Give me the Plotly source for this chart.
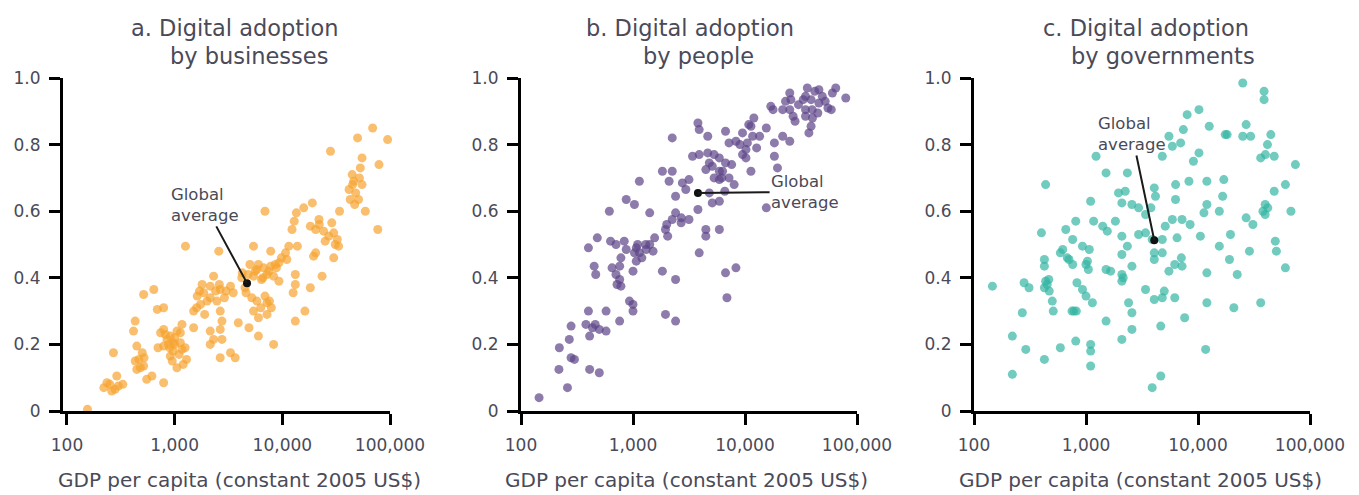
import math
import plotly.graph_objects as go

# ---------------- data ----------------
gdp_a = [69000, 50000, 95000, 28000, 55000, 79000, 53000, 44600, 46000, 55000, 41700, 48000, 42700, 51000,
         59000, 34000, 19000, 15800, 13500, 6900, 12900, 12300, 21900, 18200, 20400, 24200, 28800, 30000,
         27000, 32400, 33300, 77000, 30000, 20400, 19500, 13800, 11500, 10700, 11000, 9300, 7800, 7800,
         5400, 6700, 5800, 7200, 8300, 6400, 5400, 4250, 2570, 1260, 23400, 13200, 13200, 18200, 12600,
         9300, 16200, 13200, 8300, 6000, 4900, 3900, 2750, 3300, 3650, 2650, 6900, 7200, 7900, 5800, 5400,
         7200, 4600, 3500, 3300, 2650, 2300, 2140, 1860, 1620, 2140, 2470, 1740, 1500, 2650, 1500, 1170,
         1130, 2140, 2300, 2750, 2140, 2650, 790, 740, 850, 970, 790, 970, 1170, 1130, 910, 1290, 1050,
         640, 515, 690, 790, 430, 415, 445, 500, 465, 445, 515, 615, 550, 790, 270, 290, 235, 300, 280,
         220, 155, 1200, 910, 5000, 6000, 8800, 9800, 4500, 4200, 3000, 1700, 1900, 1000, 900,
         820, 880, 1000, 1100, 950, 1250, 700, 1050, 1800, 2000, 2400, 2900, 2600, 1600, 4800, 5600, 6600,
         7500, 8600, 6300, 7600, 5200, 6000, 45000, 52000, 47000, 480, 430, 520, 250, 330, 260, 25000,
         22000, 31000]
adopt_a = [0.85, 0.82, 0.815, 0.78, 0.76, 0.74, 0.73, 0.71, 0.69, 0.68, 0.665, 0.655, 0.635, 0.635,
           0.60, 0.60, 0.625, 0.61, 0.595, 0.60, 0.57, 0.545, 0.575, 0.555, 0.545, 0.54, 0.565, 0.535,
           0.525, 0.515, 0.495, 0.545, 0.46, 0.475, 0.465, 0.495, 0.495, 0.475, 0.455, 0.445, 0.48, 0.435,
           0.495, 0.43, 0.425, 0.41, 0.405, 0.395, 0.405, 0.415, 0.48, 0.495, 0.405, 0.41, 0.38, 0.37, 0.355,
           0.39, 0.30, 0.27, 0.20, 0.225, 0.25, 0.265, 0.27, 0.175, 0.16, 0.16, 0.345, 0.325, 0.31, 0.33, 0.30,
           0.29, 0.355, 0.355, 0.375, 0.365, 0.405, 0.375, 0.355, 0.345, 0.34, 0.33, 0.32, 0.30, 0.30, 0.25, 0.26,
           0.235, 0.24, 0.215, 0.215, 0.20, 0.245, 0.245, 0.235, 0.215, 0.205, 0.195, 0.18, 0.185, 0.205, 0.165, 0.155, 0.13,
           0.365, 0.35, 0.305, 0.31, 0.27, 0.24, 0.195, 0.175, 0.155, 0.125, 0.135, 0.105, 0.095, 0.085, 0.175, 0.105, 0.085, 0.075, 0.065,
           0.07, 0.005, 0.14, 0.225, 0.44, 0.44, 0.43, 0.46, 0.37, 0.40, 0.36, 0.36, 0.29, 0.20, 0.19,
           0.23, 0.20, 0.22, 0.17, 0.15, 0.19, 0.19, 0.24, 0.38, 0.33, 0.36, 0.34, 0.38, 0.31, 0.41, 0.42, 0.40,
           0.42, 0.44, 0.31, 0.33, 0.34, 0.28, 0.68, 0.70, 0.62, 0.13, 0.15, 0.16, 0.08, 0.08, 0.06, 0.51,
           0.56, 0.50]

gdp_b = [145, 260, 218, 280, 300, 220, 270, 280, 410, 500, 410, 435, 500, 575, 400, 575, 760, 930, 1000, 1000,
         1950, 2400, 450, 465, 705, 760, 780, 760, 780, 1000, 1070, 1030, 1070, 1140, 1310, 1410, 1560, 1510,
         400, 480, 630, 705, 835, 870, 1830, 2400, 1950, 2040, 2240, 2400, 2690, 3160, 3900, 4470, 4470, 5900,
         3800, 1410, 615, 870, 1030, 1140, 1830, 2240, 2100, 2400, 2760, 3160, 2960, 3400, 3900, 4650, 4800,
         4470, 5100, 5900, 6700, 5900, 5900, 7200, 8000, 5100, 5900, 4800, 2240, 3800, 3900, 4650, 6700, 7200,
         8300, 9500, 10500, 10200, 9500, 10200, 11700, 12000, 11300, 15500, 13500, 11300, 18300, 18300, 19500,
         21700, 25100, 17000, 17800, 25100, 25700, 25100, 26900, 21700, 33100, 34700, 38900, 39800, 34700,
         38900, 37200, 45700, 49000, 45700, 44700, 58900, 64600, 60300, 79400, 34700, 15500, 6700, 8300, 6900,
         2000, 2700, 5300, 6300,
         30000, 42000, 52000, 40000, 28000, 55000, 36000, 23000, 6200, 7600, 5300, 6600, 1200, 1300, 1100,
         650, 720, 380, 460, 10800, 12700, 9000]
adopt_b = [0.04, 0.07, 0.125, 0.16, 0.155, 0.19, 0.215, 0.255, 0.125, 0.115, 0.225, 0.25, 0.245, 0.24, 0.30, 0.30,
           0.27, 0.33, 0.32, 0.30, 0.29, 0.27, 0.435, 0.41, 0.41, 0.395, 0.375, 0.435, 0.46, 0.42, 0.45, 0.475,
           0.49, 0.475, 0.485, 0.50, 0.52, 0.48, 0.49, 0.52, 0.51, 0.50, 0.51, 0.485, 0.42, 0.395, 0.545, 0.525,
           0.575, 0.595, 0.565, 0.575, 0.475, 0.545, 0.525, 0.545, 0.605, 0.595, 0.60, 0.635, 0.62, 0.69, 0.72,
           0.72, 0.69, 0.645, 0.685, 0.695, 0.665, 0.765, 0.77, 0.775, 0.745, 0.725, 0.735, 0.76, 0.745, 0.72,
           0.695, 0.70, 0.68, 0.625, 0.63, 0.655, 0.82, 0.865, 0.845, 0.825, 0.84, 0.805, 0.81, 0.835, 0.805,
           0.785, 0.77, 0.76, 0.825, 0.88, 0.855, 0.85, 0.825, 0.72, 0.805, 0.765, 0.73, 0.825, 0.81, 0.915,
           0.905, 0.955, 0.935, 0.905, 0.885, 0.905, 0.935, 0.905, 0.935, 0.905, 0.885, 0.855, 0.835, 0.965,
           0.945, 0.925, 0.895, 0.905, 0.97, 0.955, 0.94, 0.945, 0.61, 0.415, 0.43, 0.34, 0.56, 0.58, 0.70, 0.72,
           0.92, 0.96, 0.93, 0.88, 0.87, 0.91, 0.97, 0.93, 0.70, 0.74, 0.77, 0.66, 0.46, 0.50, 0.50,
           0.43, 0.38, 0.26, 0.26, 0.86, 0.79, 0.80]

gdp_c = [25100, 38900, 38900, 10200, 8000, 12600, 7400, 5500, 5900, 7000, 4800, 18200, 26900, 25100, 29500,
         44700, 41700, 36300, 47900, 74100, 10200, 9100, 1230, 1510, 2340, 436, 1100, 1950, 2240, 4070, 4170,
         6310, 8300, 12000, 17000, 16600, 6300, 12000, 11300, 15500, 47900, 60300, 39800, 39800, 67600, 26900,
         30900, 2090, 2570, 2950, 3400, 3800, 5100, 5900, 7200, 8500, 810, 1170, 1410, 1550, 1830, 660, 400,
         760, 620, 590, 930, 1070, 2090, 2340, 2090, 2950, 3400, 3900, 4800, 4070, 4800, 4070, 6500, 10500,
         15500, 19500, 28800, 49000, 50100, 60300, 425, 425, 705, 760, 1030, 1050, 1510, 1660, 2090, 2090,
         2570, 5500, 6200, 7100, 7200, 12000, 19100, 22400, 146, 280, 310, 436, 465, 425, 500, 510, 270, 780,
         830, 930, 1000, 1140, 2400, 2570, 3400, 4070, 5000, 6200, 4800, 12000, 20900, 36300, 1510, 2570, 4650,
         7600, 220, 290, 425, 590, 810, 1100, 1100, 1100, 2090, 11700, 220, 4650, 3900,
         450, 470, 680, 1000, 820, 750, 2150, 42000, 38000, 17500, 40000]
adopt_c = [0.985, 0.96, 0.935, 0.905, 0.89, 0.855, 0.845, 0.825, 0.795, 0.805, 0.765, 0.83, 0.86, 0.825, 0.825,
           0.83, 0.80, 0.76, 0.765, 0.74, 0.775, 0.75, 0.765, 0.715, 0.715, 0.68, 0.63, 0.655, 0.66, 0.67, 0.645,
           0.68, 0.69, 0.69, 0.695, 0.645, 0.635, 0.62, 0.595, 0.60, 0.66, 0.68, 0.62, 0.59, 0.60, 0.58,
           0.56, 0.625, 0.62, 0.61, 0.59, 0.61, 0.555, 0.575, 0.575, 0.56, 0.57, 0.57, 0.555, 0.54, 0.57, 0.545, 0.535,
           0.515, 0.485, 0.475, 0.495, 0.485, 0.525, 0.495, 0.47, 0.53, 0.535, 0.515, 0.515, 0.475, 0.475, 0.455, 0.52, 0.525,
           0.495, 0.53, 0.48, 0.51, 0.48, 0.43, 0.455, 0.435, 0.455, 0.44, 0.45, 0.425, 0.425, 0.42, 0.41, 0.39,
           0.435, 0.42, 0.44, 0.46, 0.435, 0.415, 0.455, 0.41, 0.375, 0.385, 0.37, 0.39, 0.395, 0.37, 0.33, 0.30, 0.295, 0.30,
           0.385, 0.365, 0.345, 0.325, 0.325, 0.295, 0.365, 0.335, 0.36, 0.34, 0.34, 0.325, 0.31, 0.325, 0.27, 0.245, 0.255,
           0.28, 0.225, 0.185, 0.155, 0.19, 0.21, 0.20, 0.18, 0.135, 0.215, 0.185, 0.11, 0.105, 0.07,
           0.38, 0.36, 0.46, 0.44, 0.30, 0.30, 0.40, 0.61, 0.60, 0.83, 0.77]

# global averages (gdp, adoption) per panel
avg_gdp = [4700, 3800, 4070]
avg_adopt = [0.384, 0.655, 0.513]
# label anchor positions (gdp, adoption) of the "Global average" text
label_gdp = [1900, 34400, 2570]
label_adopt = [0.619, 0.658, 0.832]

titles_line1 = ["a. Digital adoption", "b. Digital adoption", "c. Digital adoption"]
titles_line2 = ["by businesses", "by people", "by governments"]
colors = ["#F7A431", "#5D4487", "#35B5A2"]
x_tickvals = [100, 1000, 10000, 100000]
x_ticktext = ["100", "1,000", "10,000", "100,000"]
y_tickvals = [0, 0.2, 0.4, 0.6, 0.8, 1.0]
y_ticktext = ["0", "0.2", "0.4", "0.6", "0.8", "1.0"]
x_title = "GDP per capita (constant 2005 US$)"

# ---------------- layout geometry (pixels) ----------------
W, H = 1359, 495
FONT = "DejaVu Sans"
TXT = "#4a4a58"
x_domains_px = [(63, 390), (521, 857), (974, 1310)]
x_ranges = [[1.963, 5.0], [2.0, 5.0], [2.0, 5.0]]
y_dom_px = (78, 411)
title1_x = [234, 690, 1146]
title2_x = [249, 698, 1163]
xtitle_x = [239, 686, 1140]

fig = go.Figure()
series = [(gdp_a, adopt_a), (gdp_b, adopt_b), (gdp_c, adopt_c)]
for i, (gx, gy) in enumerate(series):
    sfx = "" if i == 0 else str(i + 1)
    fig.add_trace(go.Scatter(
        x=gx, y=gy, mode="markers", xaxis="x" + sfx, yaxis="y" + sfx,
        marker=dict(size=9, color=colors[i], opacity=0.7, line=dict(width=0)),
        cliponaxis=False, showlegend=False, hoverinfo="skip"))
    fig.add_trace(go.Scatter(
        x=[avg_gdp[i]], y=[avg_adopt[i]], mode="markers", xaxis="x" + sfx, yaxis="y" + sfx,
        marker=dict(size=8, color="#111111"), cliponaxis=False, showlegend=False, hoverinfo="skip"))

layout = dict(width=W, height=H, margin=dict(l=0, r=0, t=0, b=0, autoexpand=False),
              template="none",
              paper_bgcolor="white", plot_bgcolor="white",
              font=dict(family=FONT, color=TXT), annotations=[])
ydom = [(H - y_dom_px[1]) / H, (H - y_dom_px[0]) / H]
for i in range(3):
    sfx = "" if i == 0 else str(i + 1)
    xd = [x_domains_px[i][0] / W, x_domains_px[i][1] / W]
    layout["xaxis" + sfx] = dict(
        type="log", domain=xd, range=x_ranges[i], anchor="y" + sfx, automargin=False,
        showgrid=False, zeroline=False, showline=True, linecolor="black", linewidth=3,
        ticks="outside", ticklen=11, tickwidth=3, tickcolor="black",
        tickvals=x_tickvals, ticktext=x_ticktext, ticklabelstandoff=6,
        tickfont=dict(family=FONT, size=17, color=TXT))
    layout["yaxis" + sfx] = dict(
        domain=ydom, range=[0, 1.0], anchor="x" + sfx, automargin=False,
        showgrid=False, zeroline=False, showline=True, linecolor="black", linewidth=3,
        ticks="outside", ticklen=11, tickwidth=3, tickcolor="black",
        tickvals=y_tickvals, ticktext=y_ticktext, ticklabelstandoff=5,
        tickfont=dict(family=FONT, size=17, color=TXT))
    # titles
    layout["annotations"].append(dict(
        text=titles_line1[i], x=title1_x[i] / W, y=1 - 28 / H, xref="paper", yref="paper",
        showarrow=False, xanchor="center", yanchor="middle",
        font=dict(family=FONT, size=22.5, color=TXT)))
    layout["annotations"].append(dict(
        text=titles_line2[i], x=title2_x[i] / W, y=1 - 56 / H, xref="paper", yref="paper",
        showarrow=False, xanchor="center", yanchor="middle",
        font=dict(family=FONT, size=22.5, color=TXT)))
    layout["annotations"].append(dict(
        text=x_title, x=xtitle_x[i] / W, y=1 - 480 / H, xref="paper", yref="paper",
        showarrow=False, xanchor="center", yanchor="middle",
        font=dict(family=FONT, size=20, color=TXT)))
    # global average callout
    layout["annotations"].append(dict(
        text="Global<br>average", x=math.log10(avg_gdp[i]), y=avg_adopt[i],
        xref="x" + sfx, yref="y" + sfx,
        ax=math.log10(label_gdp[i]), ay=label_adopt[i], axref="x" + sfx, ayref="y" + sfx,
        showarrow=True, arrowhead=0, arrowwidth=2, arrowcolor="#1a1a1a", standoff=0,
        align="left", font=dict(family=FONT, size=16.5, color=TXT)))

fig.update_layout(**layout)
fig.write_html("out.html", config={"displayModeBar": False},
               post_script="document.body.style.margin='0px';")
